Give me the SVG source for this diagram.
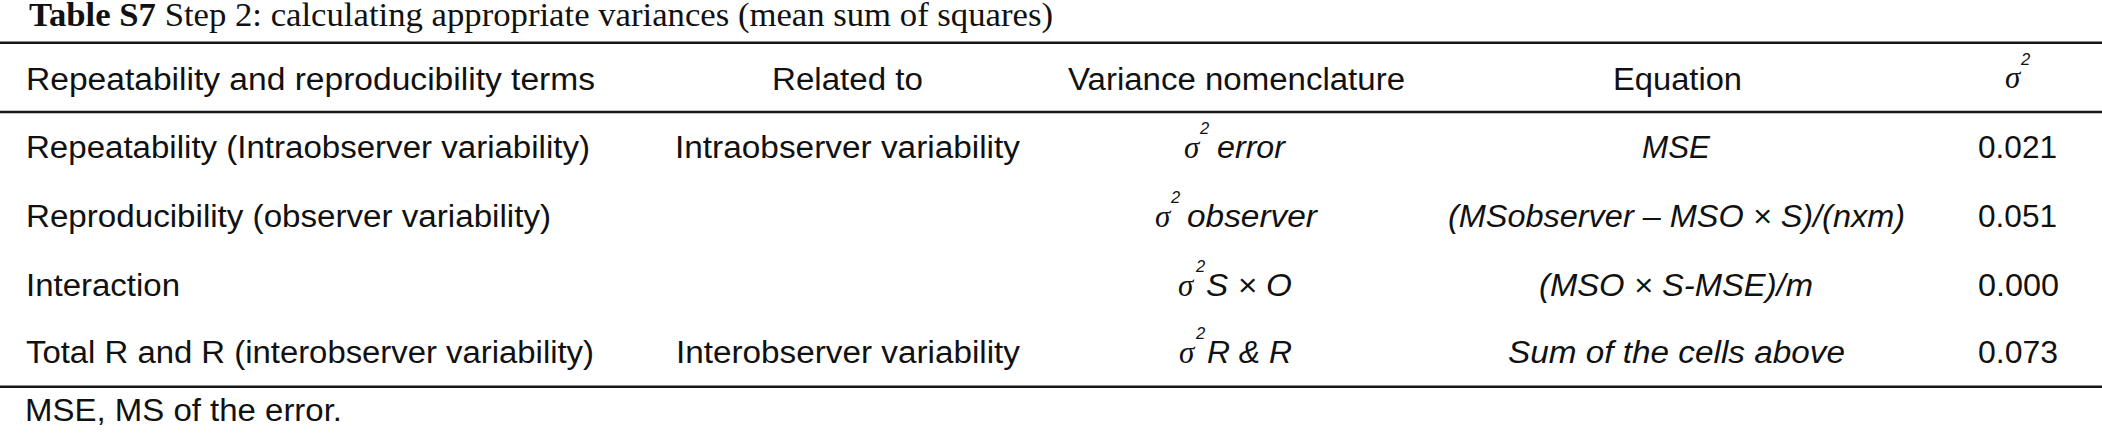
<svg xmlns="http://www.w3.org/2000/svg" width="2102" height="433" viewBox="0 0 2102 433">
<style>
.t{font-family:"Liberation Sans",Arial,sans-serif;font-size:31px;fill:#111}
.i{font-family:"Liberation Sans",Arial,sans-serif;font-size:31px;font-style:italic;fill:#111}
.sg{font-family:"Liberation Serif","Times New Roman",serif;font-size:31px;font-style:italic;fill:#111}
.sp{font-family:"Liberation Sans",Arial,sans-serif;font-size:16.5px;font-style:italic;fill:#111}
.ttl{font-family:"Liberation Serif","Times New Roman",serif;font-size:33px;fill:#111}
.rule{stroke:#161616;stroke-width:2.6}
</style>
<rect width="2102" height="433" fill="#fff"/>
<g id="title">
<text class="ttl" x="29" y="26" textLength="1024" lengthAdjust="spacingAndGlyphs"><tspan font-weight="bold">Table S7</tspan> Step 2: calculating appropriate variances (mean sum of squares)</text>
</g>
<g id="rules">
<line class="rule" x1="0" y1="42.7" x2="2102" y2="42.7"/>
<line class="rule" x1="0" y1="112" x2="2102" y2="112"/>
<line class="rule" x1="0" y1="386.7" x2="2102" y2="386.7"/>
</g>
<g id="header">
<text class="t" x="26" y="90" textLength="569" lengthAdjust="spacingAndGlyphs">Repeatability and reproducibility terms</text>
<text class="t" x="772" y="90" textLength="151" lengthAdjust="spacingAndGlyphs">Related to</text>
<text class="t" x="1068" y="90" textLength="337" lengthAdjust="spacingAndGlyphs">Variance nomenclature</text>
<text class="t" x="1613" y="90" textLength="129" lengthAdjust="spacingAndGlyphs">Equation</text>
<text class="sg" x="2005" y="88">σ</text>
<text class="sp" x="2021" y="65">2</text>
</g>
<g id="row1">
<text class="t" x="26" y="158" textLength="564" lengthAdjust="spacingAndGlyphs">Repeatability (Intraobserver variability)</text>
<text class="t" x="675" y="158" textLength="345" lengthAdjust="spacingAndGlyphs">Intraobserver variability</text>
<text class="sg" x="1184" y="158">σ</text>
<text class="sp" x="1200" y="134">2</text>
<text class="i" x="1217" y="158" textLength="68" lengthAdjust="spacingAndGlyphs">error</text>
<text class="i" x="1642" y="158" textLength="68" lengthAdjust="spacingAndGlyphs">MSE</text>
<text class="t" x="1978" y="158" textLength="79" lengthAdjust="spacingAndGlyphs">0.021</text>
</g>
<g id="row2">
<text class="t" x="26" y="227" textLength="525" lengthAdjust="spacingAndGlyphs">Reproducibility (observer variability)</text>
<text class="sg" x="1155" y="227">σ</text>
<text class="sp" x="1171" y="203">2</text>
<text class="i" x="1187" y="227" textLength="130" lengthAdjust="spacingAndGlyphs">observer</text>
<text class="i" x="1448" y="227" textLength="457" lengthAdjust="spacingAndGlyphs">(MSobserver – MSO × S)/(nxm)</text>
<text class="t" x="1978" y="227" textLength="79" lengthAdjust="spacingAndGlyphs">0.051</text>
</g>
<g id="row3">
<text class="t" x="26" y="296" textLength="154" lengthAdjust="spacingAndGlyphs">Interaction</text>
<text class="sg" x="1178" y="296">σ</text>
<text class="sp" x="1196" y="272">2</text>
<text class="i" x="1206" y="296" textLength="86" lengthAdjust="spacingAndGlyphs">S × O</text>
<text class="i" x="1539" y="296" textLength="274" lengthAdjust="spacingAndGlyphs">(MSO × S-MSE)/m</text>
<text class="t" x="1978" y="296" textLength="81" lengthAdjust="spacingAndGlyphs">0.000</text>
</g>
<g id="row4">
<text class="t" x="26" y="363" textLength="568" lengthAdjust="spacingAndGlyphs">Total R and R (interobserver variability)</text>
<text class="t" x="676" y="363" textLength="344" lengthAdjust="spacingAndGlyphs">Interobserver variability</text>
<text class="sg" x="1179" y="363">σ</text>
<text class="sp" x="1196" y="339">2</text>
<text class="i" x="1207" y="363" textLength="85" lengthAdjust="spacingAndGlyphs">R &amp; R</text>
<text class="i" x="1508" y="363" textLength="337" lengthAdjust="spacingAndGlyphs">Sum of the cells above</text>
<text class="t" x="1978" y="363" textLength="80" lengthAdjust="spacingAndGlyphs">0.073</text>
</g>
<g id="footnote">
<text class="t" x="25" y="421" textLength="317" lengthAdjust="spacingAndGlyphs">MSE, MS of the error.</text>
</g>
</svg>
